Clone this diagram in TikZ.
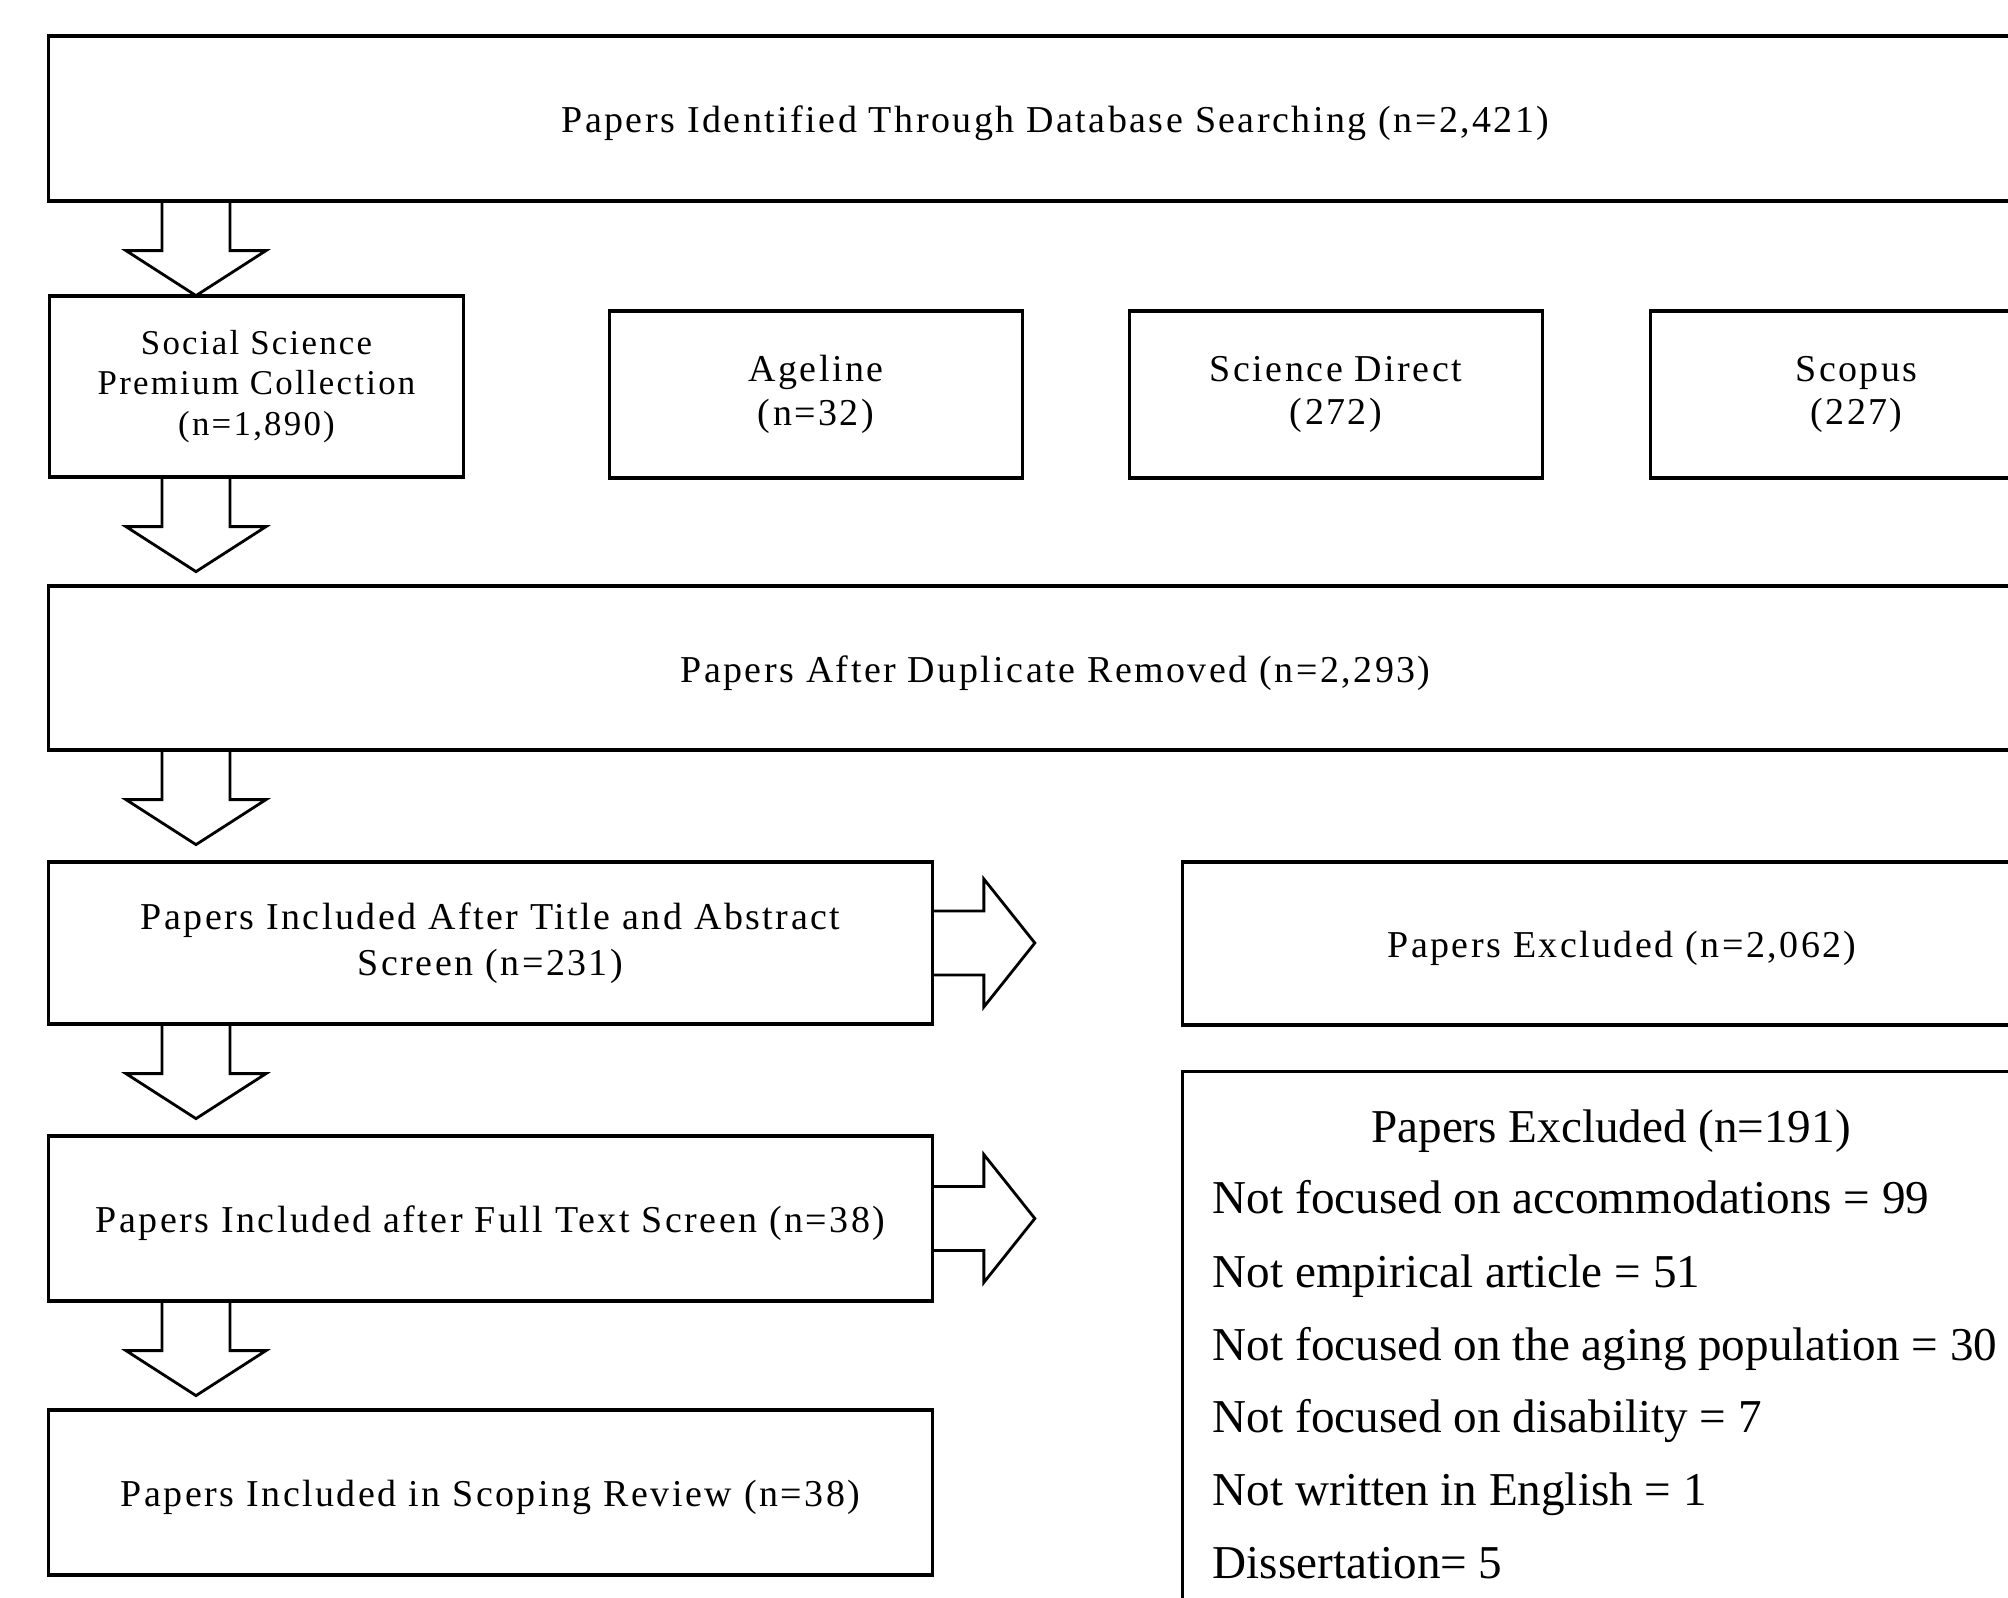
\documentclass[tikz,border=0pt]{standalone}
\usepackage{fontspec}
\setmainfont{Liberation Serif}
\newfontfamily\boxfont{Liberation Serif}[LetterSpace=6.5]
\usetikzlibrary{positioning,calc}

\begin{document}
\begin{tikzpicture}[x=0.01cm, y=-0.01cm,
box/.style={draw, line width=0.9pt, rectangle, align=center, inner sep=0pt,
  font=\boxfont\fontsize{10.8}{12.5}\selectfont,
  execute at begin node={\rule{0pt}{0.365cm}}},
item/.style={inner sep=0pt, anchor=base west, font=\fontsize{13.4}{16}\selectfont},
downarr/.pic={\draw[line width=0.8pt] (-34,0) -- (-34,48) -- (-70,48) -- (0,93) -- (70,48) -- (34,48) -- (34,0);},
rightarr/.pic={\draw[line width=0.8pt] (0,-32) -- (50,-32) -- (50,-64) -- (101,0) -- (50,64) -- (50,32) -- (0,32);}
]
\path[use as bounding box, fill=white] (0,0) rectangle (2008,1598);
\clip (0,0) rectangle (2008,1598);

% search
\node[box, minimum width=20.13cm, minimum height=1.65cm] (ident) at (1055.5,118.5) {Papers Identified Through Database Searching (n=2,421)};
\node[box, minimum width=4.13cm, minimum height=1.81cm, font=\boxfont\fontsize{9.9}{11.5}\selectfont,
  execute at begin node={\rule{0pt}{0.5cm}}] (sscp) at (256.5,386.5) {Social Science\\Premium Collection\\(n=1,890)};
\node[box, minimum width=4.12cm, minimum height=1.67cm] (ageline) at (816,394.5) {Ageline\\(n=32)};
\node[box, minimum width=4.12cm, minimum height=1.67cm] (scidir) at (1336,394.5) {Science Direct\\(272)};
\node[box, minimum width=4.12cm, minimum height=1.67cm] (scopus) at (1856.5,394.5) {Scopus\\(227)};

% screening
\node[box, minimum width=20.13cm, minimum height=1.64cm] (dupl) at (1055.5,668) {Papers After Duplicate Removed (n=2,293)};
\node[box, minimum width=8.83cm, minimum height=1.62cm, font=\boxfont\fontsize{10.8}{13}\selectfont] (tiab) at (490.5,943) {Papers Included After Title and Abstract\\Screen (n=231)};
\node[box, minimum width=8.83cm, minimum height=1.65cm] (fulltext) at (490.5,1218.5) {Papers Included after Full Text Screen (n=38)};
\node[box, minimum width=8.83cm, minimum height=1.65cm] (scoping) at (490.5,1492.5) {Papers Included in Scoping Review (n=38)};

% excluded
\node[box, minimum width=8.78cm, minimum height=1.63cm] (exclA) at (1622,943.5) {Papers Excluded (n=2,062)};
\node[box, minimum width=8.78cm, minimum height=6cm, execute at begin node={}] (exclB) at (1622,1372) {};
\node[item, anchor=base] (exclhead) at ($(exclB.north)+(-11,72)$) {Papers Excluded (n=191)};
\node[item] (r1) at ($(exclB.north west)+(31,143)$) {Not focused on accommodations = 99};
\node[item] (r2) at ([yshift=-0.74cm]r1.base west) {Not empirical article = 51};
\node[item] (r3) at ([yshift=-0.73cm]r2.base west) {Not focused on the aging population = 30};
\node[item] (r4) at ([yshift=-0.72cm]r3.base west) {Not focused on disability = 7};
\node[item] (r5) at ([yshift=-0.73cm]r4.base west) {Not written in English = 1};
\node[item] (r6) at ([yshift=-0.73cm]r5.base west) {Dissertation= 5};

% arrows
\coordinate (ax) at (196,0);
\path (ident.south -| ax) pic {downarr};
\path (sscp.south -| ax) pic {downarr};
\path (dupl.south -| ax) pic {downarr};
\path (tiab.south -| ax) pic {downarr};
\path (fulltext.south -| ax) pic {downarr};
\path (tiab.east) pic {rightarr};
\path (fulltext.east) pic {rightarr};
\end{tikzpicture}
\end{document}
